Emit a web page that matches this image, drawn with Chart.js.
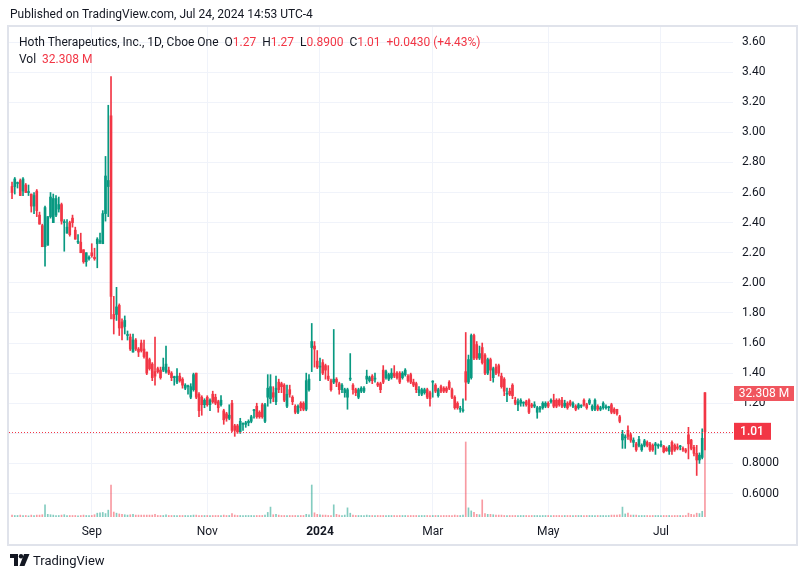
<!DOCTYPE html>
<html>
<head>
<meta charset="utf-8">
<script src="https://cdn.jsdelivr.net/npm/chart.js@4.4.1/dist/chart.umd.min.js"></script>
<style>
  html, body { margin: 0; padding: 0; background: #fff; }
  #wrap { position: relative; width: 808px; height: 579px; font-family: Roboto, sans-serif; color: #131722; }
  canvas { display: block; }
  .txt { position: absolute; white-space: pre; font-size: 12px; line-height: 16px; }
  .red { color: #f23645; }
</style>
</head>
<body>
<div id="wrap">
  <canvas id="chart" width="808" height="579"></canvas>
  <div class="txt" style="left:10px;top:6px;">Published on TradingView.com, Jul 24, 2024 14:53 UTC-4</div>
  <div class="txt" style="left:19px;top:34px;">Hoth Therapeutics, Inc., 1D, Cboe One  O<span class="red">1.27</span>  H<span class="red">1.27</span>  L<span class="red">0.8900</span>  C<span class="red">1.01</span>  <span class="red">+0.0430 (+4.43%)</span></div>
  <div class="txt" style="left:19px;top:51px;">Vol  <span class="red">32.308 M</span></div>
  <div class="txt" style="left:10px;top:553px;font-size:13px;"><svg width="20" height="12" viewBox="0 0 20 12" style="vertical-align:-1px"><path d="M0 0h8v12h-4v-8h-4z" fill="#131722"/><circle cx="11" cy="2.2" r="2.2" fill="#131722"/><path d="M14 0h5.5l-5 12h-5z" fill="#131722"/></svg> TradingView</div>
</div>
<script>
// Daily candles, Jul 24 2023 -> Jul 24 2024
const opens = [
  2.64,2.64,2.66,2.68,2.61,2.65,2.60,2.59,2.51,2.61,
  2.45,2.38,2.24,2.25,2.44,2.40,2.45,2.49,2.52,2.40,
  2.33,2.40,2.43,2.35,2.27,2.27,2.22,2.14,2.16,2.20,
  2.17,2.26,2.27,2.26,2.46,2.64,3.11,1.79,1.79,1.85,
  1.74,1.71,1.65,1.64,1.54,1.62,1.56,1.60,1.56,1.54,
  1.49,1.46,1.41,1.43,1.42,1.42,1.41,1.42,1.40,1.37,
  1.34,1.38,1.36,1.30,1.31,1.24,1.29,1.40,1.26,1.24,
  1.19,1.24,1.19,1.26,1.24,1.21,1.19,1.15,1.13,1.10,
  1.20,1.05,1.05,1.01,1.06,1.06,1.07,1.08,1.15,1.18,
  1.14,1.19,1.08,1.24,1.23,1.27,1.21,1.34,1.33,1.32,
  1.18,1.29,1.24,1.18,1.14,1.20,1.20,1.16,1.29,1.57,
  1.58,1.48,1.44,1.47,1.45,1.38,1.35,1.34,1.36,1.33,
  1.29,1.27,1.24,1.36,1.32,1.29,1.24,1.28,1.28,1.36,
  1.35,1.38,1.36,1.33,1.33,1.42,1.37,1.36,1.37,1.40,
  1.40,1.40,1.37,1.39,1.38,1.39,1.34,1.33,1.27,1.26,
  1.27,1.29,1.27,1.34,1.32,1.25,1.31,1.30,1.30,1.34,
  1.29,1.24,1.20,1.16,1.15,1.41,1.34,1.37,1.65,1.59,
  1.50,1.57,1.52,1.40,1.49,1.37,1.44,1.45,1.38,1.36,
  1.26,1.28,1.32,1.22,1.19,1.20,1.20,1.21,1.22,1.19,
  1.18,1.14,1.16,1.17,1.18,1.20,1.21,1.22,1.22,1.22,
  1.22,1.18,1.20,1.21,1.18,1.18,1.17,1.18,1.22,1.19,
  1.20,1.16,1.16,1.18,1.16,1.17,1.17,1.17,1.19,1.16,
  1.16,1.11,0.956,0.97,1.02,0.99,0.94,0.93,0.92,0.89,
  0.92,0.94,0.93,0.92,0.92,0.915,0.92,0.915,0.90,0.88,
  0.94,0.92,0.91,0.91,0.90,0.89,0.99,0.955,0.907,0.867,
  0.823,0.84,1.27
];
const highs = [
  2.67,2.70,2.67,2.69,2.70,2.66,2.65,2.59,2.60,2.62,
  2.47,2.39,2.51,2.44,2.60,2.59,2.58,2.57,2.53,2.42,
  2.42,2.41,2.45,2.37,2.32,2.33,2.22,2.20,2.18,2.26,
  2.23,2.30,2.33,2.48,2.84,3.18,3.37,1.91,1.97,1.86,
  1.76,1.78,1.68,1.66,1.66,1.63,1.57,1.62,1.62,1.54,
  1.50,1.47,1.64,1.44,1.44,1.50,1.58,1.44,1.41,1.38,
  1.43,1.40,1.37,1.33,1.32,1.33,1.40,1.40,1.27,1.25,
  1.23,1.25,1.23,1.28,1.26,1.22,1.25,1.16,1.14,1.19,
  1.22,1.06,1.06,1.10,1.07,1.08,1.09,1.12,1.16,1.20,
  1.15,1.20,1.20,1.39,1.39,1.31,1.38,1.36,1.34,1.33,
  1.32,1.32,1.25,1.19,1.19,1.21,1.21,1.40,1.39,1.73,
  1.61,1.55,1.50,1.49,1.46,1.45,1.36,1.69,1.37,1.34,
  1.33,1.30,1.30,1.53,1.33,1.30,1.30,1.31,1.31,1.42,
  1.38,1.39,1.40,1.34,1.34,1.45,1.42,1.40,1.43,1.45,
  1.41,1.41,1.41,1.43,1.39,1.40,1.36,1.34,1.31,1.30,
  1.30,1.30,1.28,1.35,1.33,1.30,1.32,1.31,1.31,1.35,
  1.30,1.25,1.21,1.18,1.23,1.67,1.52,1.66,1.66,1.61,
  1.58,1.60,1.53,1.50,1.50,1.44,1.46,1.46,1.40,1.37,
  1.30,1.30,1.33,1.24,1.23,1.23,1.21,1.22,1.23,1.20,
  1.21,1.18,1.18,1.21,1.21,1.21,1.23,1.26,1.23,1.23,
  1.24,1.22,1.21,1.22,1.21,1.19,1.20,1.19,1.23,1.20,
  1.23,1.19,1.23,1.19,1.18,1.21,1.19,1.18,1.20,1.17,
  1.16,1.12,1.02,0.99,1.05,1.00,0.97,0.94,0.98,0.93,
  0.96,0.95,0.94,0.93,0.94,0.93,0.95,0.92,0.91,0.92,
  0.95,0.93,0.93,0.92,0.91,0.90,1.04,0.96,0.92,0.92,
  0.87,1.03,1.27
];
const lows = [
  2.56,2.59,2.63,2.58,2.58,2.60,2.58,2.47,2.46,2.44,
  2.39,2.24,2.11,2.25,2.43,2.40,2.44,2.47,2.39,2.21,
  2.33,2.31,2.37,2.29,2.26,2.20,2.13,2.11,2.15,2.17,
  2.15,2.10,2.26,2.26,2.41,2.44,1.76,1.66,1.75,1.65,
  1.62,1.66,1.62,1.55,1.54,1.55,1.51,1.54,1.50,1.39,
  1.42,1.35,1.32,1.40,1.36,1.41,1.40,1.39,1.35,1.32,
  1.33,1.34,1.30,1.29,1.26,1.23,1.28,1.23,1.11,1.12,
  1.17,1.18,1.15,1.20,1.19,1.14,1.18,1.06,1.08,1.09,
  1.01,0.98,1.00,1.00,1.02,1.04,1.05,1.07,1.10,1.10,
  1.10,1.10,1.07,1.18,1.20,1.21,1.19,1.27,1.27,1.21,
  1.17,1.24,1.19,1.13,1.13,1.15,1.15,1.15,1.28,1.41,
  1.44,1.43,1.35,1.39,1.36,1.35,1.28,1.33,1.31,1.26,
  1.27,1.24,1.16,1.35,1.26,1.25,1.23,1.27,1.27,1.33,
  1.34,1.33,1.34,1.31,1.27,1.33,1.36,1.35,1.36,1.37,
  1.36,1.33,1.36,1.38,1.34,1.33,1.31,1.27,1.25,1.25,
  1.26,1.23,1.18,1.24,1.27,1.24,1.27,1.27,1.27,1.29,
  1.23,1.16,1.16,1.14,1.14,1.22,1.33,1.36,1.49,1.49,
  1.49,1.46,1.39,1.39,1.35,1.34,1.39,1.38,1.30,1.25,
  1.21,1.25,1.23,1.19,1.15,1.18,1.18,1.18,1.13,1.17,
  1.17,1.10,1.14,1.16,1.17,1.17,1.20,1.17,1.17,1.18,
  1.17,1.17,1.16,1.18,1.17,1.15,1.16,1.17,1.18,1.16,
  1.19,1.15,1.15,1.15,1.15,1.16,1.16,1.15,1.13,1.13,
  1.12,1.07,0.90,0.90,0.96,0.94,0.91,0.88,0.91,0.88,
  0.91,0.91,0.88,0.88,0.86,0.90,0.91,0.87,0.88,0.86,
  0.86,0.88,0.89,0.89,0.88,0.87,0.83,0.89,0.85,0.72,
  0.80,0.83,0.89
];
const closes = [
  2.60,2.69,2.66,2.58,2.69,2.60,2.60,2.51,2.58,2.48,
  2.39,2.24,2.50,2.44,2.57,2.56,2.56,2.52,2.41,2.40,
  2.37,2.32,2.40,2.29,2.27,2.20,2.14,2.20,2.17,2.18,
  2.16,2.29,2.28,2.46,2.71,2.68,1.91,1.76,1.84,1.70,
  1.70,1.75,1.65,1.56,1.62,1.56,1.54,1.55,1.51,1.40,
  1.43,1.37,1.38,1.41,1.37,1.44,1.46,1.40,1.37,1.37,
  1.38,1.35,1.32,1.32,1.31,1.31,1.39,1.24,1.15,1.19,
  1.22,1.19,1.22,1.21,1.20,1.17,1.22,1.09,1.10,1.12,
  1.02,1.02,1.01,1.08,1.06,1.07,1.08,1.11,1.15,1.11,
  1.11,1.11,1.19,1.30,1.31,1.24,1.30,1.29,1.31,1.22,
  1.26,1.26,1.21,1.14,1.18,1.17,1.16,1.35,1.36,1.61,
  1.56,1.44,1.44,1.40,1.42,1.36,1.29,1.36,1.34,1.29,
  1.32,1.29,1.29,1.36,1.29,1.27,1.29,1.30,1.30,1.38,
  1.37,1.35,1.36,1.32,1.29,1.34,1.41,1.39,1.40,1.38,
  1.37,1.34,1.40,1.42,1.35,1.34,1.32,1.29,1.29,1.29,
  1.29,1.24,1.23,1.34,1.28,1.29,1.28,1.28,1.28,1.30,
  1.24,1.17,1.17,1.16,1.15,1.34,1.49,1.65,1.50,1.50,
  1.53,1.47,1.40,1.49,1.42,1.43,1.40,1.40,1.31,1.28,
  1.26,1.26,1.25,1.20,1.21,1.22,1.20,1.19,1.14,1.18,
  1.19,1.17,1.17,1.20,1.20,1.18,1.22,1.18,1.18,1.19,
  1.18,1.20,1.17,1.19,1.20,1.16,1.19,1.18,1.19,1.17,
  1.22,1.18,1.22,1.16,1.17,1.20,1.17,1.17,1.14,1.14,
  1.13,1.08,0.995,0.97,0.98,0.955,0.955,0.89,0.96,0.92,
  0.95,0.92,0.89,0.89,0.93,0.92,0.92,0.877,0.885,0.91,
  0.88,0.89,0.90,0.91,0.89,0.88,0.93,0.90,0.867,0.823,
  0.855,0.967,1.01
];
// volume in millions of shares
const volumes = [
  0.5,0.4,0.4,0.5,0.4,0.4,0.3,0.5,0.4,0.5,
  0.5,0.6,3.2,0.7,0.6,0.5,0.4,0.4,0.5,0.6,
  0.4,0.4,0.4,0.4,0.3,0.4,0.5,0.4,0.4,0.4,
  0.6,1.0,1.1,1.2,0.9,1.8,8.4,1.3,1.0,0.8,
  0.7,0.6,0.5,0.6,0.7,0.5,0.5,0.5,0.5,0.5,
  0.5,0.5,0.7,0.4,0.4,0.4,0.6,0.4,0.4,0.4,
  0.4,0.4,0.4,0.4,0.4,0.4,0.5,0.5,0.4,0.4,
  0.4,0.4,0.4,0.4,0.4,0.4,0.4,0.5,0.4,0.4,
  0.9,0.5,0.4,0.4,0.4,0.4,0.4,0.4,0.4,0.4,
  0.4,0.4,0.5,1.2,2.6,0.6,0.7,0.5,0.4,0.4,
  0.4,0.4,0.4,0.4,0.4,0.4,0.4,0.7,0.6,8.4,
  1.1,0.7,0.6,0.5,0.5,0.4,0.4,3.2,0.7,0.5,
  0.4,0.5,2.4,1.0,0.5,0.4,0.4,0.4,0.4,0.5,
  0.4,0.4,0.4,0.4,0.4,0.4,0.4,0.4,0.4,0.4,
  0.4,0.4,0.4,0.4,0.4,0.4,0.4,0.4,0.4,0.4,
  0.4,0.4,0.4,0.4,0.4,0.4,0.4,0.4,0.4,0.4,
  0.4,0.5,0.4,0.4,0.5,19.7,2.4,1.6,1.2,0.7,
  0.6,4.5,0.9,0.7,0.7,0.6,0.5,0.5,0.5,0.4,
  0.4,0.4,0.4,0.4,0.4,0.4,0.4,0.4,0.4,0.4,
  0.4,0.4,0.4,0.4,0.4,0.4,0.4,0.4,0.4,0.4,
  0.4,0.4,0.4,0.4,0.4,0.4,0.4,0.4,0.4,0.4,
  0.4,0.4,0.4,0.4,0.4,0.4,0.4,0.4,0.5,0.5,
  0.5,0.6,2.6,0.8,1.0,0.5,0.5,0.5,0.4,0.4,
  0.4,0.4,0.4,0.4,0.4,0.4,0.4,0.4,0.4,0.4,
  0.4,0.4,0.4,0.4,0.4,0.4,1.0,0.7,0.6,1.0,
  0.9,1.5,32.308
];
// bar index of the first session of each labelled month
const monthIdx = [29, 71, 112, 153, 195, 236];
const monthLabels = ['Sep', 'Nov', '2024', 'Mar', 'May', 'Jul'];

const UP = '#089981';
const DOWN = '#f23645';
const idx = closes.map((_, i) => i);
const isUp = i => closes[i] >= opens[i];
const last = closes.length - 1;

const fmtPrice = v => (v >= 1 ? v.toFixed(2) : v.toFixed(4));

const tvExtras = {
  id: 'tvExtras',
  afterDatasetsDraw(chart) {
    const { ctx, chartArea, scales } = chart;
    const y = Math.round(scales.y.getPixelForValue(closes[last])) + 0.5;
    ctx.save();
    ctx.strokeStyle = DOWN;
    ctx.lineWidth = 1;
    ctx.setLineDash([1, 2]);
    ctx.beginPath();
    ctx.moveTo(chartArea.left, y);
    ctx.lineTo(chartArea.right, y);
    ctx.stroke();
    ctx.restore();
  },
  afterDraw(chart) {
    const { ctx, chartArea, scales } = chart;
    const x0 = chartArea.right + 1;
    ctx.save();
    ctx.font = '12px Roboto, sans-serif';
    ctx.textBaseline = 'middle';
    ctx.textAlign = 'center';
    // volume label
    const vy = scales.yv.getPixelForValue(volumes[last]);
    ctx.fillStyle = '#f0555e';
    ctx.fillRect(x0, vy - 8, 60, 15);
    ctx.fillStyle = '#fff';
    ctx.fillText(volumes[last].toFixed(3) + ' M', x0 + 30, vy);
    // last price label
    const py = scales.y.getPixelForValue(closes[last]);
    ctx.fillStyle = DOWN;
    ctx.fillRect(x0, py - 9, 37, 17);
    ctx.fillStyle = '#fff';
    ctx.font = '500 12px Roboto, sans-serif';
    ctx.fillText(closes[last].toFixed(2), x0 + 18, py);
    // frame
    ctx.strokeStyle = '#e0e3eb';
    ctx.lineWidth = 2;
    ctx.strokeRect(8, 26, 789, 519);
    ctx.restore();
  }
};

new Chart(document.getElementById('chart'), {
  type: 'bar',
  data: {
    datasets: [
      {
        label: 'body',
        data: idx.map(i => ({ x: i, y: [opens[i], closes[i]] })),
        backgroundColor: idx.map(i => (isUp(i) ? UP : DOWN)),
        barThickness: 2,
        minBarLength: 1,
        grouped: false,
        order: 1,
        yAxisID: 'y'
      },
      {
        label: 'wick',
        data: idx.map(i => ({ x: i, y: [lows[i], highs[i]] })),
        backgroundColor: idx.map(i => (isUp(i) ? UP : DOWN)),
        barThickness: 1,
        grouped: false,
        order: 2,
        yAxisID: 'y'
      },
      {
        label: 'volume',
        data: idx.map(i => ({ x: i, y: volumes[i] })),
        backgroundColor: idx.map(i => (isUp(i) ? 'rgba(8,153,129,0.5)' : 'rgba(242,54,69,0.5)')),
        barThickness: 1,
        grouped: false,
        order: 3,
        yAxisID: 'yv'
      }
    ]
  },
  options: {
    responsive: false,
    animation: false,
    layout: { padding: { left: 9, top: 27, right: 11, bottom: 34 } },
    plugins: { legend: { display: false }, tooltip: { enabled: false } },
    scales: {
      x: {
        type: 'linear',
        min: -1.1,
        max: 262.2,
        offset: false,
        afterBuildTicks: s => { s.ticks = monthIdx.map(v => ({ value: v })); },
        afterFit: s => { s.height = 28; },
        grid: { color: '#f0f3fa', drawTicks: false, offset: false },
        border: { display: false },
        ticks: {
          autoSkip: false,
          maxRotation: 0,
          padding: 8,
          color: '#131722',
          font: ctx => ({ family: 'Roboto, sans-serif', size: 12, weight: ctx.tick && ctx.tick.value === 112 ? 'bold' : 'normal' }),
          callback: v => monthLabels[monthIdx.indexOf(v)] || ''
        }
      },
      y: {
        position: 'right',
        min: 0.444,
        max: 3.70,
        afterFit: s => { s.width = 64; },
        grid: { color: '#f0f3fa', drawTicks: false },
        border: { display: false },
        ticks: {
          stepSize: 0.2,
          includeBounds: false,
          padding: 9,
          color: '#131722',
          font: { family: 'Roboto, sans-serif', size: 12 },
          callback: v => fmtPrice(v)
        }
      },
      yv: { display: false, min: 0, max: 128.7 }
    }
  },
  plugins: [tvExtras]
});
</script>
</body>
</html>
